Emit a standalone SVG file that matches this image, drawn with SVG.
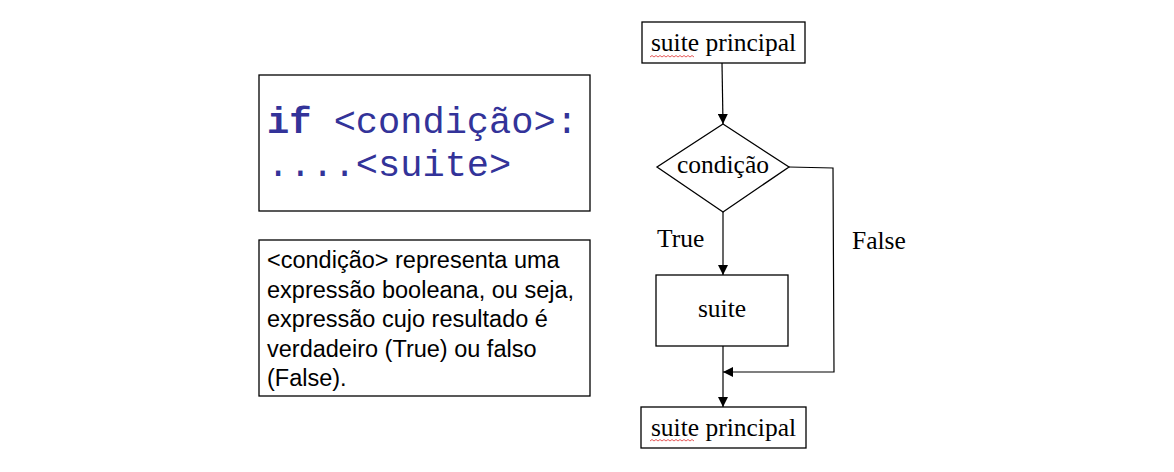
<svg xmlns="http://www.w3.org/2000/svg" width="1174" height="472" viewBox="0 0 1174 472">
<defs>
<style>
.box{fill:#fff;stroke:#000;stroke-width:1.3}
.line{fill:none;stroke:#000;stroke-width:1.2}
.serif{font-family:"Liberation Serif","Times New Roman",serif;font-size:25.5px;fill:#000}
.code{font-family:"Liberation Mono","Courier New",monospace;font-size:37px;fill:#333399}
.sans{font-family:"Liberation Sans",Arial,sans-serif;font-size:23.5px;fill:#000}
.wave{fill:none;stroke:#e03030;stroke-width:0.8}
</style>
<marker id="arr" viewBox="0 0 10 10" refX="10" refY="5" markerWidth="10" markerHeight="10" markerUnits="userSpaceOnUse" orient="auto">
<path d="M0,0 L10,5 L0,10 z" fill="#000"/>
</marker>
</defs>
<rect width="1174" height="472" fill="#fff"/>
<g id="code-box">
<rect class="box" x="259" y="75" width="331" height="136"/>
<text class="code" x="267" y="133"><tspan font-weight="bold">if</tspan> &lt;condição&gt;:</text>
<text class="code" x="267" y="176">....&lt;suite&gt;</text>
</g>
<g id="desc-box">
<rect class="box" x="259" y="240" width="331" height="156"/>
<text class="sans" x="267" y="268">&lt;condição&gt; representa uma</text>
<text class="sans" x="267" y="297.5">expressão booleana, ou seja,</text>
<text class="sans" x="267" y="327">expressão cujo resultado é</text>
<text class="sans" x="267" y="356.5">verdadeiro (True) ou falso</text>
<text class="sans" x="267" y="386">(False).</text>
</g>
<g id="connectors">
<line class="line" x1="722" y1="63" x2="723" y2="124" marker-end="url(#arr)"/>
<line class="line" x1="723" y1="212" x2="723" y2="275" marker-end="url(#arr)"/>
<line class="line" x1="723" y1="346" x2="723" y2="407" marker-end="url(#arr)"/>
<polyline class="line" points="789,167 833,168 834,372 723,372" marker-end="url(#arr)"/>
</g>
<g id="start">
<rect class="box" x="642" y="22" width="163" height="41"/>
<text class="serif" x="723.5" y="51" text-anchor="middle">suite principal</text>
<path class="wave" d="M650,57 l2,-1.5 l2,1.5 l2,-1.5 l2,1.5 l2,-1.5 l2,1.5 l2,-1.5 l2,1.5 l2,-1.5 l2,1.5 l2,-1.5 l2,1.5 l2,-1.5 l2,1.5 l2,-1.5 l2,1.5 l2,-1.5 l2,1.5 l2,-1.5 l2,1.5 l2,-1.5 l2,1.5"/>
</g>
<g id="condition">
<polygon class="box" points="723,124 789,167 723,212 657,167"/>
<text class="serif" x="723" y="173" text-anchor="middle">condição</text>
</g>
<g id="suite">
<rect class="box" x="656" y="275" width="132" height="71"/>
<text class="serif" x="722" y="317" text-anchor="middle">suite</text>
</g>
<g id="end">
<rect class="box" x="641" y="407" width="165" height="41"/>
<text class="serif" x="723.5" y="436" text-anchor="middle">suite principal</text>
<path class="wave" d="M650,441 l2,-1.5 l2,1.5 l2,-1.5 l2,1.5 l2,-1.5 l2,1.5 l2,-1.5 l2,1.5 l2,-1.5 l2,1.5 l2,-1.5 l2,1.5 l2,-1.5 l2,1.5 l2,-1.5 l2,1.5 l2,-1.5 l2,1.5 l2,-1.5 l2,1.5 l2,-1.5 l2,1.5"/>
</g>
<g id="labels">
<text class="serif" x="657" y="247">True</text>
<text class="serif" x="852" y="249">False</text>
</g>
</svg>
